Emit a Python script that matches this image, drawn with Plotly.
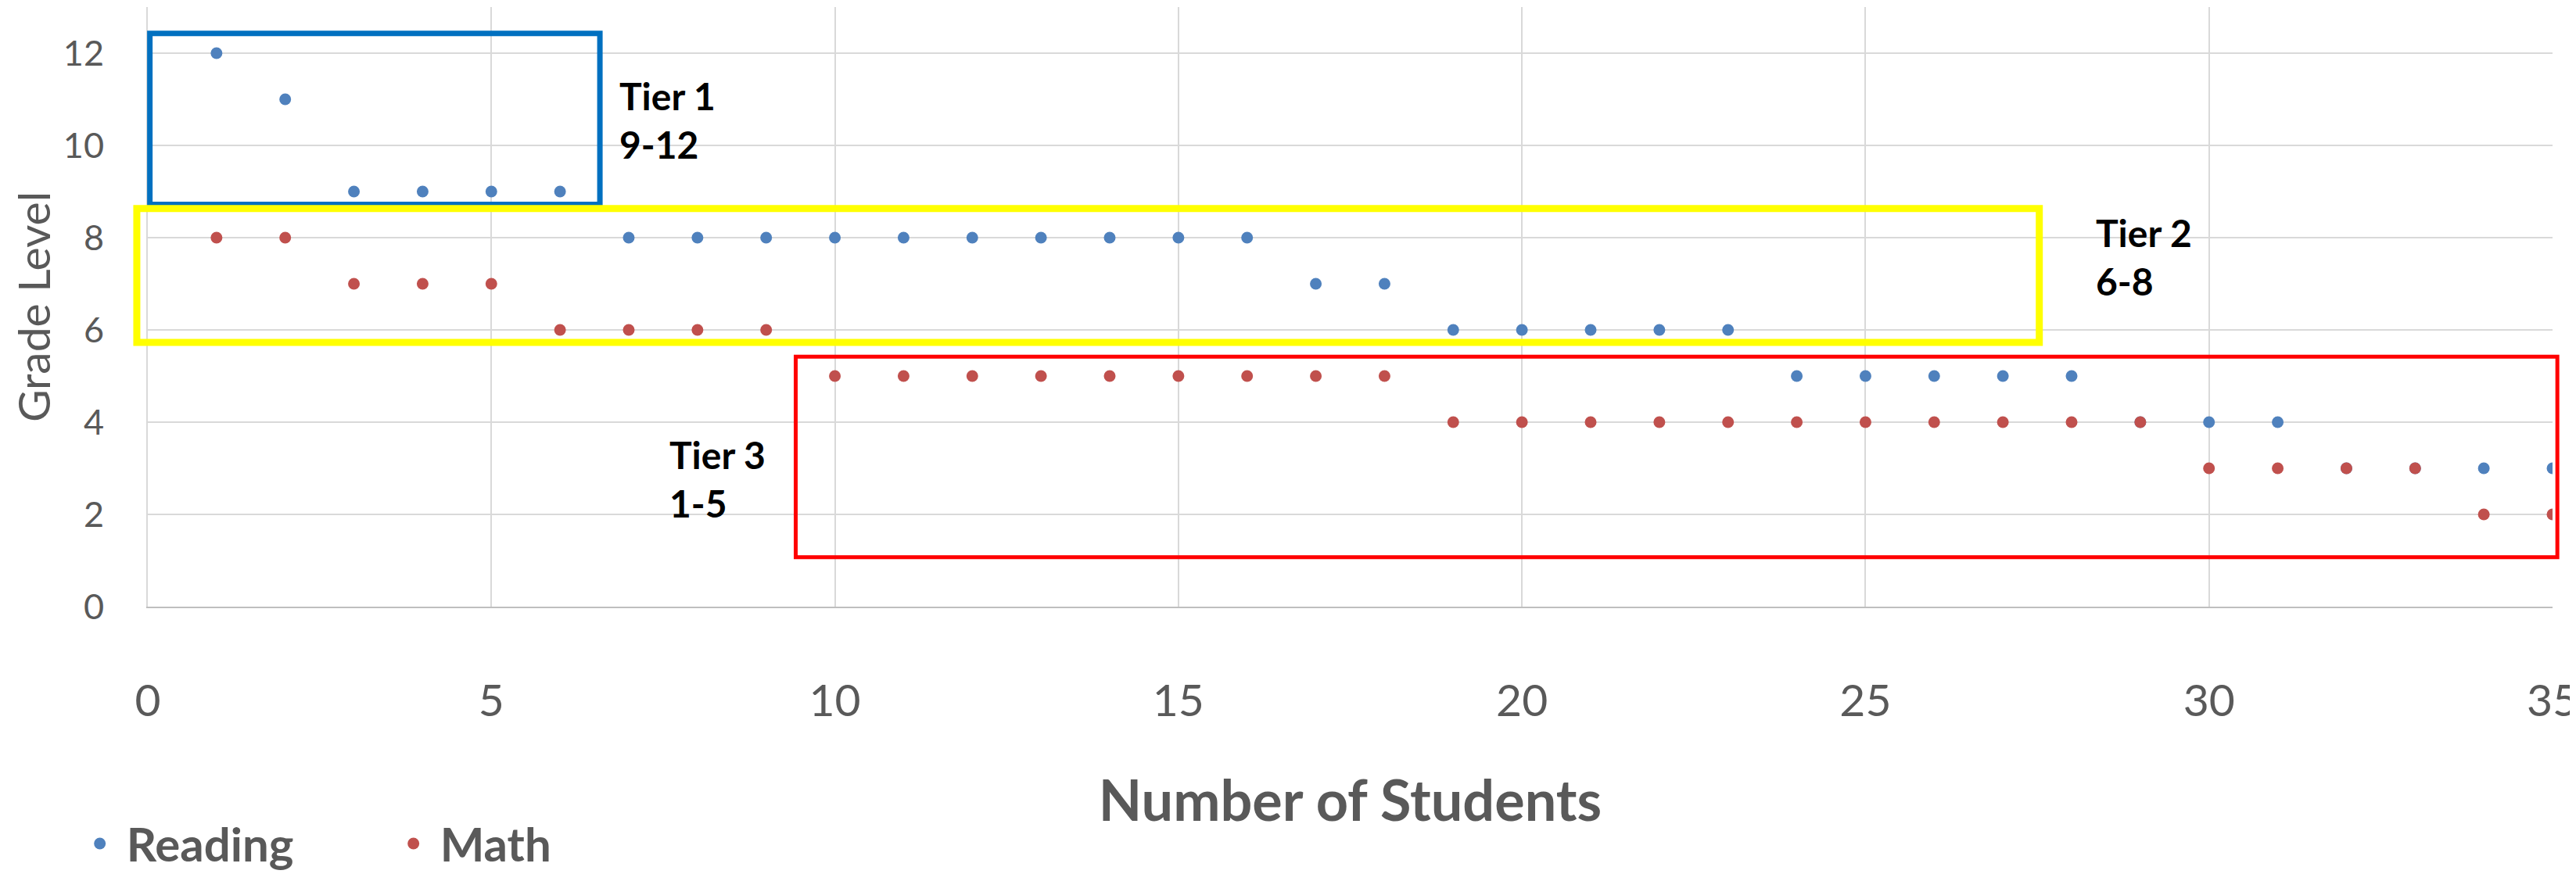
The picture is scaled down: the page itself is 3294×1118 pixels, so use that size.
import plotly.graph_objects as go

# ---- data ----
students = list(range(1, 36))
reading = [12, 11, 9, 9, 9, 9, 8, 8, 8, 8, 8, 8, 8, 8, 8, 8, 7, 7, 6, 6,
           6, 6, 6, 5, 5, 5, 5, 5, 4, 4, 4, 3, 3, 3, 3]
math = [8, 8, 7, 7, 7, 6, 6, 6, 6, 5, 5, 5, 5, 5, 5, 5, 5, 5, 4, 4,
        4, 4, 4, 4, 4, 4, 4, 4, 4, 3, 3, 3, 3, 2, 2]
series_names = ["Reading", "Math"]
series_colors = ["#4F81BD", "#C0504D"]

x_range = [0, 35]
y_range = [0, 13]

# tier boxes in data units: (x0, x1, y0, y1)
tier_boxes = [
    ((0.03, 6.58, 8.72, 12.43), "#0070C0", 7),
    ((-0.16, 27.53, 5.73, 8.63), "#FFFF00", 9),
    ((9.43, 35.07, 1.07, 5.42), "#FF0000", 5),
]
tier_labels = [
    ("Tier 1<br>9-12", 6.84, 10.55),
    ("Tier 2<br>6-8", 28.33, 7.58),
    ("Tier 3<br>1-5", 7.57, 2.77),
]

FONT = "Lato, 'Open Sans', Arial, sans-serif"
GRAY = "#595959"

fig = go.Figure()
for name, vals, col in zip(series_names, [reading, math], series_colors):
    fig.add_trace(go.Scatter(
        x=students, y=vals, mode="markers", name=name,
        marker=dict(color=col, size=15, line=dict(width=0)),
    ))


def fx(v):
    return (v - x_range[0]) / (x_range[1] - x_range[0])


def fy(v):
    return (v - y_range[0]) / (y_range[1] - y_range[0])


for (x0, x1, y0, y1), col, w in tier_boxes:
    fig.add_shape(type="rect", xref="x domain", yref="y domain",
                  x0=fx(x0), x1=fx(x1), y0=fy(y0), y1=fy(y1),
                  line=dict(color=col, width=w), fillcolor="rgba(0,0,0,0)",
                  layer="above")

for txt, xv, yv in tier_labels:
    fig.add_annotation(x=xv, y=yv, xref="x", yref="y", text=txt,
                       showarrow=False, xanchor="left", yanchor="middle",
                       align="left",
                       font=dict(family=FONT, size=48, color="#000000", weight="bold"))

fig.update_layout(
    width=3294, height=1118,
    margin=dict(l=181, r=38, t=1, b=337),
    paper_bgcolor="white", plot_bgcolor="white",
    font=dict(family=FONT, color=GRAY),
    showlegend=True,
    legend=dict(orientation="h", x=-0.031, y=-0.395, xanchor="left", yanchor="middle",
                font=dict(family=FONT, size=60, color=GRAY, weight="bold"),
                itemwidth=58,
                entrywidth=328, entrywidthmode="pixels", bgcolor="rgba(0,0,0,0)"),
)
fig.update_xaxes(
    range=x_range, dtick=5, tick0=0,
    showgrid=True, gridcolor="#D9D9D9", gridwidth=2,
    zeroline=False, showline=True, linecolor="#BFBFBF", linewidth=2,
    ticks="", tickfont=dict(family=FONT, size=57, color=GRAY),
    ticklabelstandoff=70, ticklabeloverflow="allow",
    title=dict(text="Number of Students", standoff=72,
               font=dict(family=FONT, size=72, color=GRAY, weight="bold")),
)
fig.update_yaxes(
    range=y_range, dtick=2, tick0=0,
    showgrid=True, gridcolor="#D9D9D9", gridwidth=2,
    zeroline=False, showline=True, linecolor="#D9D9D9", linewidth=2,
    ticks="", tickfont=dict(family=FONT, size=45, color=GRAY),
    ticklabelstandoff=45,
    title=dict(text="Grade Level", standoff=30,
               font=dict(family=FONT, size=57, color=GRAY)),
)

fig.write_html("out.html")
